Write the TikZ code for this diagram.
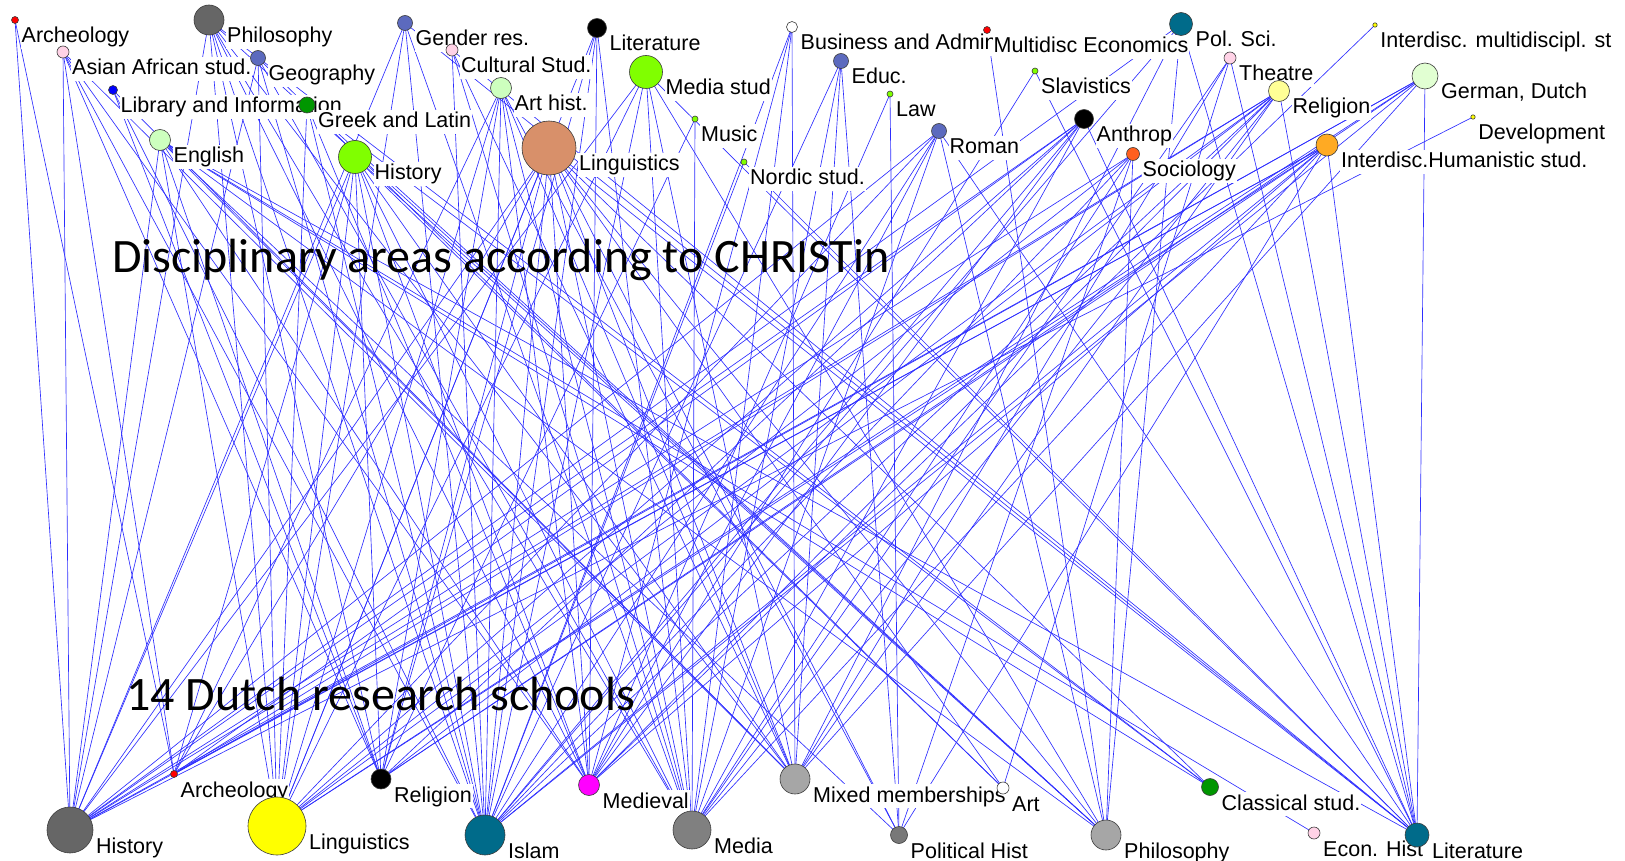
\documentclass[tikz,border=0pt]{standalone}
\usepackage{fontspec}
\setmainfont{Liberation Sans}
\newfontfamily\titlefont{Carlito}
\definecolor{edgeblue}{RGB}{45,45,255}
\definecolor{cred}{RGB}{255,0,0}
\definecolor{cblue}{RGB}{0,0,255}
\definecolor{cyell}{RGB}{255,255,0}
\definecolor{cmag}{RGB}{255,0,255}
\definecolor{cblack}{RGB}{0,0,0}
\definecolor{cwhite}{RGB}{255,255,255}
\definecolor{cpink}{RGB}{255,210,230}
\definecolor{cslate}{RGB}{92,106,190}
\definecolor{cpale}{RGB}{205,255,190}
\definecolor{cgreen}{RGB}{0,150,0}
\definecolor{clime}{RGB}{128,255,0}
\definecolor{csalmon}{RGB}{216,144,106}
\definecolor{cteal}{RGB}{0,107,138}
\definecolor{corred}{RGB}{255,95,30}
\definecolor{clyellow}{RGB}{255,255,150}
\definecolor{cgerm}{RGB}{225,255,210}
\definecolor{corange}{RGB}{255,170,35}
\definecolor{cdgray}{RGB}{102,102,102}
\definecolor{cmgray}{RGB}{128,128,128}
\definecolor{clgray}{RGB}{166,166,166}
\definecolor{cphgray}{RGB}{120,120,120}
\definecolor{coutline}{RGB}{60,60,60}
\begin{document}
\begin{tikzpicture}[x=1pt,y=-1pt,
  edge/.style={draw=edgeblue,line width=0.65pt},
  vtx/.style={circle,draw=coutline,line width=0.6pt,inner sep=0pt},
  lbl/.style={anchor=base west,fill=white,inner sep=1pt,text height=17pt,text depth=5pt,font=\fontsize{21.5}{24}\selectfont},
  ttl/.style={anchor=base west,inner sep=0pt,font=\titlefont\fontsize{48}{50}\selectfont}]
\useasboundingbox (0,0) rectangle (1625,861);
% top nodes: name/x/y/r/colour/label
\def\topnodes{tArch/15/20/3.5/cred/Archeology,
 tAsian/63/52/6/cpink/{Asian African stud.},
 tLib/113/90/4.5/cblue/{Library and Information},
 tPhilo/209/20/15/cdgray/Philosophy,
 tGeog/258/58/7.5/cslate/Geography,
 tEng/160/140/10.5/cpale/English,
 tGreek/307/105/8/cgreen/{Greek and Latin},
 tHist/355/157/16.5/clime/History,
 tGender/405/23/7.5/cslate/{Gender res.},
 tCult/452/50/6/cpink/{Cultural Stud.},
 tArtH/501/88/10.5/cpale/{Art hist.},
 tLing/549/148/27/csalmon/Linguistics,
 tLit/597/28/9.5/cblack/Literature,
 tMedia/646/72/16.5/clime/{Media stud},
 tMusic/695/119/3/clime/Music,
 tNordic/744/162/3/clime/{Nordic stud.},
 tBus/792/27/5.5/cwhite/{Business and Admin},
 tEduc/841/61/7.5/cslate/Educ.,
 tLaw/890/94/3/clime/Law,
 tRoman/939/131/7.5/cslate/Roman,
 tMulti/987/30/3.5/cred/{Multidisc Economics},
 tSlav/1035/71/3/clime/Slavistics,
 tAnth/1084/119/9.5/cblack/Anthrop,
 tSoc/1133/154/6.5/corred/Sociology,
 tPol/1181/24/11.5/cteal/{Pol. Sci.},
 tTheat/1230/58/6/cpink/Theatre,
 tRelig/1279/91/10.5/clyellow/Religion,
 tIMulti/1375/25/2.2/cyell/{Interdisc. multidiscipl. st},
 tGerm/1425/76/13/cgerm/{German, Dutch},
 tDev/1473/117/2.2/cyell/Development,
 tIHum/1327/145/11/corange/{Interdisc.Humanistic stud.}}
\def\botnodes{bHist/70/830/23/cdgray/History,
 bArch/174/774/3.5/cred/Archeology,
 bLing/277/826/29/cyell/Linguistics,
 bRelig/381/779/10/cblack/Religion,
 bIslam/485/835/20/cteal/Islam,
 bMed/589/785/10.5/cmag/Medieval,
 bMedia/692/830/19/cmgray/Media,
 bMixed/795/779/15/clgray/{Mixed memberships},
 bArt/1003/788/6/cwhite/Art,
 bPH/899/835/8.5/cphgray/{Political Hist},
 bPhilo/1106/835/15/clgray/Philosophy,
 bClass/1210/787/8.5/cgreen/{Classical stud.},
 bEcon/1314/833/6/cpink/{Econ. Hist},
 bLit/1417/835/12/cteal/Literature}
\foreach \n/\x/\y/\r/\c/\t in \topnodes {\coordinate (\n) at (\x,\y);}
\foreach \n/\x/\y/\r/\c/\t in \botnodes {\coordinate (\n) at (\x,\y);}
% connectors
\foreach \a/\b in {
 tArch/bHist, tArch/bArch,
 tAsian/bHist, tAsian/bArch, tAsian/bRelig, tAsian/bIslam, tAsian/bMed, tAsian/bMixed,
 tLib/bRelig, tLib/bIslam, tLib/bMixed,
 tPhilo/bHist, tPhilo/bLing, tPhilo/bRelig, tPhilo/bIslam, tPhilo/bMed, tPhilo/bMedia, tPhilo/bMixed, tPhilo/bPhilo, tPhilo/bClass,
 tGeog/bHist, tGeog/bLing, tGeog/bIslam, tGeog/bMedia, tGeog/bArt,
 tEng/bHist, tEng/bLing, tEng/bRelig, tEng/bMed, tEng/bPH, tEng/bPhilo, tEng/bClass, tEng/bLit, tEng/bEcon, tEng/bMixed,
 tGreek/bLing, tGreek/bIslam, tGreek/bMed, tGreek/bClass, tGreek/bPhilo,
 tHist/bHist, tHist/bArch, tHist/bLing, tHist/bRelig, tHist/bIslam, tHist/bMed, tHist/bMedia, tHist/bMixed, tHist/bArt, tHist/bPhilo,
 tGender/bHist, tGender/bLing, tGender/bIslam, tGender/bMedia, tGender/bLit,
 tCult/bIslam, tCult/bMedia, tCult/bMixed, tCult/bLit,
 tArtH/bArch, tArtH/bLing, tArtH/bRelig, tArtH/bIslam, tArtH/bMed, tArtH/bMedia, tArtH/bMixed, tArtH/bPH,
 tLing/bHist, tLing/bArch, tLing/bLing, tLing/bRelig, tLing/bIslam, tLing/bMed, tLing/bMedia, tLing/bMixed, tLing/bPH, tLing/bArt, tLing/bPhilo, tLing/bLit, tLing/bClass,
 tLit/bLing, tLit/bRelig, tLit/bIslam, tLit/bMed, tLit/bMedia,
 tMedia/bHist, tMedia/bLing, tMedia/bIslam, tMedia/bMedia, tMedia/bMixed, tMedia/bLit, tMedia/bPhilo,
 tMusic/bRelig, tMusic/bMedia,
 tNordic/bIslam, tNordic/bLit,
 tBus/bIslam, tBus/bMed, tBus/bMedia, tBus/bMixed,
 tEduc/bIslam, tEduc/bMedia, tEduc/bMixed, tEduc/bPH,
 tLaw/bMed, tLaw/bPH,
 tRoman/bHist, tRoman/bLing, tRoman/bIslam, tRoman/bMed, tRoman/bMedia, tRoman/bPhilo, tRoman/bLit,
 tMulti/bPhilo,
 tSlav/bMed, tSlav/bLit,
 tAnth/bHist, tAnth/bArch, tAnth/bLing, tAnth/bRelig, tAnth/bIslam, tAnth/bMed, tAnth/bMedia, tAnth/bLit,
 tSoc/bHist, tSoc/bLing, tSoc/bIslam, tSoc/bMedia, tSoc/bPhilo, tSoc/bPH,
 tPol/bHist, tPol/bIslam, tPol/bMixed, tPol/bPhilo, tPol/bLit,
 tTheat/bArt, tTheat/bLit, tTheat/bMixed, tTheat/bMedia,
 tRelig/bHist, tRelig/bArch, tRelig/bLing, tRelig/bRelig, tRelig/bIslam, tRelig/bMed, tRelig/bMedia, tRelig/bMixed, tRelig/bLit,
 tIMulti/bMed,
 tGerm/bHist, tGerm/bArch, tGerm/bLing, tGerm/bRelig, tGerm/bIslam, tGerm/bMixed, tGerm/bLit,
 tDev/bHist,
 tIHum/bHist, tIHum/bArch, tIHum/bLing, tIHum/bRelig, tIHum/bIslam, tIHum/bMed, tIHum/bMedia, tIHum/bPH, tIHum/bLit}
 {\draw[edge] (\a) -- (\b);}
% titles
\node[ttl] (title1) at (112,272) {Disciplinary areas according to CHRISTin};
\node[ttl] (title2) at (126,710) {14 Dutch research schools};
% labels
\foreach \n/\x/\y/\r/\c/\t in \topnodes {\node[lbl] (\n-l) at ([xshift=\r pt+2pt,yshift=-23pt]\n) {\t};}
\foreach \n/\x/\y/\r/\c/\t in \botnodes {\node[lbl] (\n-l) at ([xshift=\r pt+2pt,yshift=-23pt]\n) {\t};}
% vertices
\foreach \n/\x/\y/\r/\c/\t in \topnodes {\node[vtx,fill=\c,minimum size=2*\r pt] (\n-v) at (\n) {};}
\foreach \n/\x/\y/\r/\c/\t in \botnodes {\node[vtx,fill=\c,minimum size=2*\r pt] (\n-v) at (\n) {};}
\end{tikzpicture}
\end{document}
